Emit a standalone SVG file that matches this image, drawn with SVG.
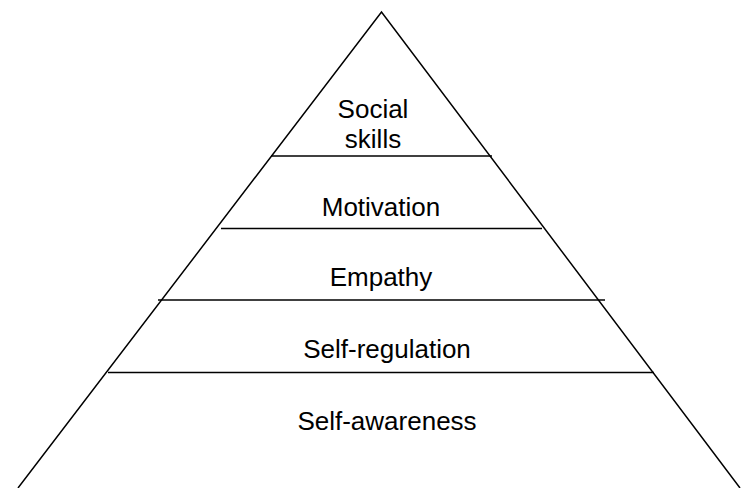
<svg xmlns="http://www.w3.org/2000/svg" width="741" height="488" viewBox="0 0 741 488">
<style>
.edge{stroke:#000;stroke-width:1.5;fill:none}
.div{stroke:#000;stroke-width:1.6;fill:none}
.lbl{font-family:"Liberation Sans",Arial,sans-serif;font-size:26px;fill:#000;text-anchor:middle}
</style>
<rect width="741" height="488" fill="#fff"/>
<g id="pyramid">
<path class="edge" d="M18,488 L381.5,12 L740,488"/>
</g>
<g id="connectors">
<line class="div" x1="271" y1="156" x2="492" y2="156"/>
<line class="div" x1="221" y1="228.5" x2="542" y2="228.5"/>
<line class="div" x1="158" y1="300" x2="605" y2="300"/>
<line class="div" x1="108" y1="372.5" x2="654" y2="372.5"/>
</g>
<g id="social-skills"><text class="lbl" x="373" y="118">Social</text><text class="lbl" x="373" y="148">skills</text></g>
<g id="motivation"><text class="lbl" x="381" y="216">Motivation</text></g>
<g id="empathy"><text class="lbl" x="381" y="286">Empathy</text></g>
<g id="self-regulation"><text class="lbl" x="387" y="358">Self-regulation</text></g>
<g id="self-awareness"><text class="lbl" x="387" y="430">Self-awareness</text></g>
</svg>
